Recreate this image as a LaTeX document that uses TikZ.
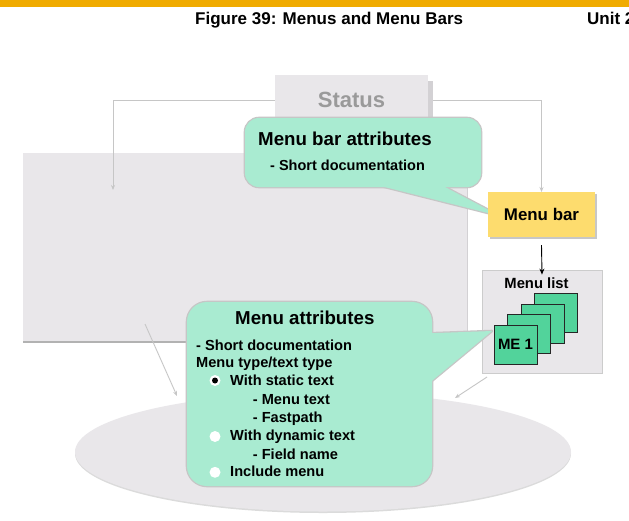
\documentclass[tikz,border=0pt]{standalone}
\usepackage{fontspec}
\setmainfont{Liberation Sans}
\usetikzlibrary{shapes.geometric,arrows.meta}
\definecolor{orangebar}{HTML}{F0AB00}
\definecolor{panel}{HTML}{E9E7EA}
\definecolor{panelshade}{HTML}{D3D1D4}
\definecolor{callout}{HTML}{A9EBD1}
\definecolor{callborder}{HTML}{C6C6C6}
\definecolor{menuyellow}{HTML}{FDDC6E}
\definecolor{megreen}{HTML}{52D39B}
\definecolor{connc}{HTML}{C6C6C6}
\definecolor{statustext}{HTML}{9A9A9A}
\begin{document}
\begin{tikzpicture}[x=1pt,y=-1pt,
  txt/.style={inner sep=0pt, anchor=base west, font=\bfseries\fontsize{#1}{#1}\selectfont},
  connline/.style={draw=connc, line width=0.9pt, -{Stealth[length=5pt,width=4pt]}},
  mebox/.style={draw=black!85, line width=0.9pt, fill=megreen, minimum width=43pt, minimum height=39pt, inner sep=0pt},
  bulletc/.style={circle, fill=white, minimum size=11pt, inner sep=0pt},
  callbord/.style={draw=callborder, line width=2.6pt, line join=round}]
\useasboundingbox (0,0) rectangle (629,520);
\fill[white] (0,0) rectangle (629,520);
% header
\fill[orangebar] (0,0) rectangle (629,7);
\node[txt=17] (title) at (195,24) {Figure 39: Menus and Menu Bars};
\node[txt=17] (unit) at (587,24) {Unit 2};

% screen panel
\fill[panel] (23,153) rectangle (467,342);
\draw[draw=panelshade, line width=0.8pt] (467,153) -- (467,342);
\draw[draw=black!30, line width=1.2pt] (23,342) -- (467,342);

% status tab
\fill[panelshade] (428,81) rectangle (433,125);
\node[fill=panel, minimum width=153pt, minimum height=50pt, inner sep=0pt,
      text=statustext, font=\bfseries\fontsize{22}{22}\selectfont] (status) at (351.5,100) {Status};

% ellipse
\fill[black!14] (323,453.5) ellipse [x radius=248, y radius=59.5];
\node[ellipse, fill=panel, minimum width=496pt, minimum height=119pt, inner sep=0pt] (ell) at (323,452) {};

% connectors
\coordinate (screenIn) at (113,190);
\draw[connline] (status.west) -| (screenIn);
\draw[connline] ([xshift=5pt]status.east) -| (541.5,192);
\coordinate (a1s) at (145,324);
\coordinate (a1e) at (177,396);
\coordinate (a2s) at (487,377);
\coordinate (a2e) at (455,398);
\draw[connline] (a1s) -- (a1e);
\draw[connline] (a2s) -- (a2e);

% menu bar callout
\draw[callbord, rounded corners=14pt] (245,118) rectangle (481,187);
\draw[callbord] (345,177) -- (426,177) -- (500,216) -- cycle;
\fill[callout, rounded corners=14pt] (245,118) rectangle (481,187);
\fill[callout] (345,177) -- (426,177) -- (500,216) -- cycle;
\node[txt=18.7] (mbatt) at (258,145) {Menu bar attributes};
\node[txt=14.5] (mbdoc) at (270,170.5) {- Short documentation};

% menu bar
\fill[black!22] (490,194) rectangle (597,239);
\node[fill=menuyellow, minimum width=107pt, minimum height=45pt, inner sep=0pt,
      font=\bfseries\fontsize{16.9}{17}\selectfont] (menubar) at (541.5,214.5) {Menu bar};

% menu list
\node[fill=panel, draw=black!20, line width=0.8pt, minimum width=120pt, minimum height=103pt, inner sep=0pt] (menulist) at (542,321.5) {};
\draw[-{Stealth[length=6pt,width=5pt]}, line width=0.9pt] ([yshift=-8pt]menubar.south) -- ([yshift=-5pt]menulist.north);
\node[txt=14.8, anchor=base] (mltitle) at (536.5,288) {Menu list};
\node[mebox] (me4) at (556,313) {};
\node[mebox] (me3) at (542.5,323.5) {};
\node[mebox] (me2) at (529,334) {};
\node[mebox, font=\bfseries\fontsize{15}{15}\selectfont] (me1) at (515.5,344.5) {ME 1};

% menu attributes callout
\draw[callbord, rounded corners=20pt] (187,302) rectangle (432,486);
\draw[callbord] (410,334) -- (492,331) -- (410,399) -- cycle;
\fill[callout, rounded corners=20pt] (187,302) rectangle (432,486);
\fill[callout] (410,334) -- (492,331) -- (410,399) -- cycle;
\node[txt=18.7] (matt) at (235,324) {Menu attributes};
\node[txt=14.6] (l1) at (196,350) {- Short documentation};
\node[txt=14.6] (l2) at (196,367.7) {Menu type/text type};
\node[txt=14.6] (l3) at (230,385.7) {With static text};
\node[txt=14.6] (l4) at (252.7,404.2) {- Menu text};
\node[txt=14.6] (l5) at (252.7,422.3) {- Fastpath};
\node[txt=14.6] (l6) at (230,440.7) {With dynamic text};
\node[txt=14.6] (l7) at (252.7,459) {- Field name};
\node[txt=14.6] (l8) at (230,476.7) {Include menu};
\node[bulletc] (b1) at (215,380.5) {};
\fill[black] (b1.center) circle (3pt);
\node[bulletc] (b2) at (215,436.5) {};
\node[bulletc] (b3) at (215,472.3) {};
\end{tikzpicture}
\end{document}
